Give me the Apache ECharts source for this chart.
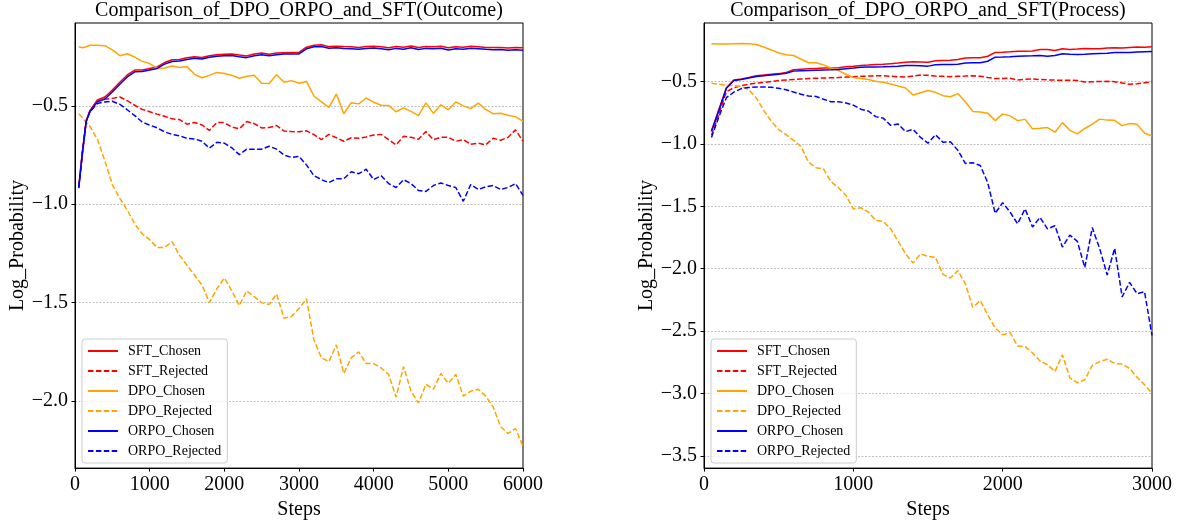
<!DOCTYPE html>
<html>
<head>
<meta charset="utf-8">
<script src="https://cdn.jsdelivr.net/npm/echarts@6/dist/echarts.min.js"></script>
<style>
  html, body { margin: 0; padding: 0; background: #fff; }
  #main { width: 1182px; height: 525px; }
</style>
</head>
<body>
<div id="main"></div>
<script>
// steps (x values) for the two panels
const stepsOutcome = [50, 100, 150, 200, 300, 400, 500, 600, 700, 800, 900, 1000,
  1100, 1200, 1300, 1400, 1500, 1600, 1700, 1800, 1900, 2000,
  2100, 2200, 2300, 2400, 2500, 2600, 2700, 2800, 2900, 3000,
  3100, 3200, 3300, 3400, 3500, 3600, 3700, 3800, 3900, 4000,
  4100, 4200, 4300, 4400, 4500, 4600, 4700, 4800, 4900, 5000,
  5100, 5200, 5300, 5400, 5500, 5600, 5700, 5800, 5900, 6000];
const stepsProcess = [50, 100, 150, 200, 250, 300, 350, 400, 450, 500,
  550, 600, 650, 700, 750, 800, 850, 900, 950, 1000,
  1050, 1100, 1150, 1200, 1250, 1300, 1350, 1400, 1450, 1500,
  1550, 1600, 1650, 1700, 1750, 1800, 1850, 1900, 1950, 2000,
  2050, 2100, 2150, 2200, 2250, 2300, 2350, 2400, 2450, 2500,
  2550, 2600, 2650, 2700, 2750, 2800, 2850, 2900, 2950, 3000];

// Outcome panel
const sftChosenO = [-0.915, -0.735, -0.575, -0.525,
  -0.47, -0.455, -0.42, -0.38, -0.343, -0.318, -0.318, -0.31,
  -0.302, -0.28, -0.266, -0.264, -0.256, -0.25, -0.254, -0.245, -0.24, -0.238,
  -0.236, -0.242, -0.247, -0.237, -0.232, -0.238, -0.232, -0.23, -0.229, -0.228,
  -0.202, -0.192, -0.19, -0.199, -0.197, -0.199, -0.2, -0.203, -0.199, -0.197,
  -0.2, -0.205, -0.198, -0.202, -0.196, -0.204, -0.199, -0.2, -0.197, -0.205,
  -0.2, -0.202, -0.197, -0.2, -0.203, -0.204, -0.203, -0.206, -0.203, -0.205];
const sftRejectedO = [-0.905, -0.73, -0.575, -0.525,
  -0.475, -0.466, -0.462, -0.455, -0.474, -0.497, -0.518, -0.53,
  -0.542, -0.553, -0.566, -0.57, -0.593, -0.585, -0.597, -0.625, -0.585, -0.585,
  -0.608, -0.617, -0.58, -0.59, -0.612, -0.61, -0.6, -0.628, -0.631, -0.632,
  -0.627, -0.646, -0.672, -0.645, -0.662, -0.68, -0.662, -0.665, -0.658, -0.648,
  -0.645, -0.672, -0.698, -0.655, -0.66, -0.67, -0.631, -0.672, -0.66, -0.66,
  -0.68, -0.672, -0.695, -0.69, -0.698, -0.665, -0.675, -0.66, -0.622, -0.68];
const dpoChosenO = [-0.2, -0.205, -0.2, -0.192,
  -0.192, -0.194, -0.216, -0.245, -0.235, -0.252, -0.274, -0.285,
  -0.31, -0.308, -0.298, -0.305, -0.3, -0.34, -0.357, -0.345, -0.33, -0.336,
  -0.344, -0.36, -0.35, -0.345, -0.385, -0.386, -0.342, -0.38, -0.372, -0.385,
  -0.376, -0.45, -0.48, -0.508, -0.44, -0.54, -0.484, -0.49, -0.46, -0.482,
  -0.497, -0.498, -0.53, -0.51, -0.528, -0.55, -0.485, -0.538, -0.495, -0.52,
  -0.48, -0.5, -0.514, -0.486, -0.518, -0.54, -0.538, -0.548, -0.556, -0.578];
const dpoRejectedO = [-0.54, -0.56, -0.585, -0.605,
  -0.67, -0.78, -0.9, -0.97, -1.03, -1.1, -1.15, -1.18,
  -1.22, -1.22, -1.19, -1.26, -1.31, -1.36, -1.41, -1.5, -1.43, -1.375,
  -1.44, -1.515, -1.44, -1.47, -1.5, -1.51, -1.456, -1.58, -1.57, -1.53,
  -1.48, -1.69, -1.78, -1.8, -1.715, -1.86, -1.78, -1.75, -1.81, -1.81,
  -1.832, -1.865, -1.98, -1.825, -1.95, -2.01, -1.915, -1.94, -1.86, -1.91,
  -1.865, -1.975, -1.95, -1.94, -1.975, -2.03, -2.13, -2.165, -2.14, -2.23];
const orpoChosenO = [-0.918, -0.74, -0.58, -0.53,
  -0.48, -0.465, -0.43, -0.39, -0.353, -0.327, -0.326, -0.318,
  -0.31, -0.288, -0.275, -0.272, -0.265, -0.258, -0.262, -0.253, -0.248, -0.246,
  -0.244, -0.25, -0.255, -0.245, -0.24, -0.246, -0.24, -0.237, -0.237, -0.236,
  -0.21, -0.2, -0.198, -0.207, -0.205, -0.208, -0.21, -0.212, -0.208, -0.206,
  -0.21, -0.215, -0.208, -0.212, -0.205, -0.214, -0.208, -0.21, -0.207, -0.216,
  -0.21, -0.212, -0.207, -0.21, -0.213, -0.215, -0.214, -0.218, -0.215, -0.218];
const orpoRejectedO = [-0.915, -0.735, -0.58, -0.53,
  -0.488, -0.48, -0.477, -0.492, -0.52, -0.55, -0.582, -0.598,
  -0.612, -0.632, -0.645, -0.652, -0.665, -0.668, -0.68, -0.715, -0.685, -0.69,
  -0.713, -0.748, -0.72, -0.72, -0.72, -0.705, -0.72, -0.75, -0.762, -0.757,
  -0.8, -0.855, -0.875, -0.89, -0.87, -0.87, -0.835, -0.845, -0.822, -0.875,
  -0.855, -0.895, -0.915, -0.875, -0.895, -0.93, -0.935, -0.905, -0.892, -0.905,
  -0.915, -0.985, -0.9, -0.925, -0.912, -0.905, -0.925, -0.915, -0.895, -0.955];

// Process panel
const sftChosenP = [-0.894, -0.72, -0.548, -0.487, -0.478, -0.466, -0.452, -0.447, -0.441, -0.435,
  -0.425, -0.404, -0.4, -0.396, -0.393, -0.39, -0.389, -0.388, -0.38, -0.375,
  -0.369, -0.366, -0.362, -0.36, -0.355, -0.35, -0.343, -0.34, -0.342, -0.344,
  -0.332, -0.33, -0.328, -0.322, -0.31, -0.308, -0.308, -0.296, -0.265, -0.263,
  -0.26, -0.256, -0.255, -0.253, -0.242, -0.242, -0.25, -0.236, -0.241, -0.238,
  -0.234, -0.236, -0.235, -0.23, -0.228, -0.23, -0.226, -0.222, -0.224, -0.22];
const sftRejectedP = [-0.93, -0.76, -0.58, -0.548, -0.532, -0.52, -0.512, -0.506, -0.499, -0.49,
  -0.486, -0.482, -0.478, -0.474, -0.472, -0.47, -0.468, -0.467, -0.463, -0.46,
  -0.457, -0.455, -0.453, -0.452, -0.456, -0.46, -0.462, -0.455, -0.447, -0.449,
  -0.455, -0.457, -0.46, -0.456, -0.455, -0.453, -0.456, -0.466, -0.475, -0.475,
  -0.472, -0.486, -0.48, -0.478, -0.482, -0.485, -0.487, -0.489, -0.488, -0.49,
  -0.503, -0.5, -0.498, -0.497, -0.5, -0.51, -0.52, -0.517, -0.508, -0.502];
const dpoChosenP = [-0.196, -0.197, -0.198, -0.196, -0.194, -0.195, -0.202, -0.222, -0.245, -0.27,
  -0.283, -0.29, -0.32, -0.348, -0.348, -0.365, -0.39, -0.41, -0.44, -0.466,
  -0.474, -0.482, -0.497, -0.505, -0.518, -0.535, -0.55, -0.607, -0.588, -0.57,
  -0.585, -0.612, -0.62, -0.595, -0.66, -0.738, -0.742, -0.752, -0.812, -0.758,
  -0.774, -0.812, -0.802, -0.878, -0.874, -0.868, -0.905, -0.828, -0.89, -0.918,
  -0.875, -0.84, -0.8, -0.808, -0.81, -0.852, -0.835, -0.842, -0.912, -0.935];
const dpoRejectedP = [-0.513, -0.52, -0.527, -0.532, -0.54, -0.565, -0.63, -0.73, -0.815, -0.885,
  -0.925, -0.97, -1.02, -1.145, -1.19, -1.2, -1.3, -1.35, -1.41, -1.52,
  -1.51, -1.545, -1.612, -1.62, -1.68, -1.78, -1.88, -1.955, -1.882, -1.9,
  -1.908, -2.045, -2.075, -2.015, -2.12, -2.31, -2.255, -2.37, -2.475, -2.53,
  -2.513, -2.62, -2.625, -2.675, -2.74, -2.77, -2.825, -2.69, -2.875, -2.915,
  -2.89, -2.775, -2.745, -2.726, -2.76, -2.765, -2.8, -2.87, -2.93, -3.0];
const orpoChosenP = [-0.9, -0.73, -0.552, -0.49, -0.482, -0.47, -0.458, -0.452, -0.446, -0.44,
  -0.432, -0.415, -0.412, -0.41, -0.407, -0.405, -0.404, -0.402, -0.395, -0.39,
  -0.384, -0.382, -0.381, -0.38, -0.378, -0.375, -0.37, -0.37, -0.372, -0.375,
  -0.363, -0.362, -0.362, -0.36, -0.35, -0.348, -0.348, -0.336, -0.303, -0.302,
  -0.3, -0.296, -0.293, -0.292, -0.29, -0.295, -0.29, -0.276, -0.28, -0.281,
  -0.279, -0.276, -0.274, -0.272, -0.266, -0.265, -0.265, -0.262, -0.26, -0.258];
const orpoRejectedP = [-0.947, -0.78, -0.628, -0.583, -0.555, -0.546, -0.543, -0.543, -0.544, -0.553,
  -0.565, -0.583, -0.6, -0.614, -0.618, -0.64, -0.66, -0.66, -0.67, -0.688,
  -0.72, -0.735, -0.78, -0.792, -0.85, -0.84, -0.9, -0.882, -0.947, -0.993,
  -0.925, -0.985, -0.982, -1.05, -1.155, -1.15, -1.172, -1.31, -1.555, -1.47,
  -1.546, -1.64, -1.52, -1.665, -1.588, -1.68, -1.655, -1.826, -1.73, -1.78,
  -1.99, -1.67, -1.84, -2.05, -1.836, -2.225, -2.11, -2.2, -2.185, -2.535];

const names = ['SFT_Chosen', 'SFT_Rejected', 'DPO_Chosen', 'DPO_Rejected', 'ORPO_Chosen', 'ORPO_Rejected'];
const yTicksO = [-2.0, -1.5, -1.0, -0.5];
const yTicksP = [-3.5, -3.0, -2.5, -2.0, -1.5, -1.0, -0.5];

var FONT = 'Liberation Serif';
var DASH = [5.5, 2.4];

function line(name, steps, vals, color, dashed, idx) {
  return {
    name: name,
    type: 'line',
    xAxisIndex: idx,
    yAxisIndex: idx,
    data: steps.map(function (s, i) { return [s, vals[i]]; }),
    symbol: 'none',
    showSymbol: false,
    lineStyle: { color: color, width: 1.5, type: dashed ? DASH : 'solid' },
    itemStyle: { color: color }
  };
}

function minus(v) {
  return v.toFixed(1).replace('-', '\u2212');
}

function xAxis(idx, max) {
  return {
    type: 'value', gridIndex: idx, min: 0, max: max, interval: 1000,
    name: 'Steps', nameLocation: 'middle', nameGap: 28,
    nameTextStyle: { fontFamily: FONT, fontSize: 20, color: '#000' },
    axisLine: { show: true, onZero: false, lineStyle: { color: '#000', width: 1 } },
    axisTick: { show: true, inside: false, length: 3.5, lineStyle: { color: '#000', width: 1 } },
    axisLabel: { fontFamily: FONT, fontSize: 20, color: '#000', margin: 7, formatter: function (v) { return String(v); } },
    splitLine: { show: false }
  };
}

function yAxis(idx, min, max, ticks, splitNumber) {
  return {
    type: 'value', gridIndex: idx, min: min, max: max, splitNumber: splitNumber,
    name: 'Log_Probability', nameLocation: 'middle', nameGap: 47, nameRotate: 90,
    nameTextStyle: { fontFamily: FONT, fontSize: 20, color: '#000' },
    axisLine: { show: true, onZero: false, lineStyle: { color: '#000', width: 1 } },
    axisTick: { show: true, inside: false, length: 3.5, customValues: ticks, lineStyle: { color: '#000', width: 1 } },
    axisLabel: { fontFamily: FONT, fontSize: 20, color: '#000', margin: 7, customValues: ticks, formatter: minus },
    splitLine: { show: true, lineStyle: { color: '#b0b0b0', width: 0.8, type: [2, 1.5] } }
  };
}

function legend(left) {
  return {
    orient: 'vertical', left: left, top: 339,
    itemWidth: 30, itemHeight: 14, itemGap: 6,
    padding: [5, 6, 5, 5],
    backgroundColor: 'rgba(255,255,255,0.8)',
    borderColor: '#cccccc', borderWidth: 1, borderRadius: 3,
    itemStyle: { opacity: 0 },
    textStyle: { fontFamily: FONT, fontSize: 14, color: '#000', padding: [0, 0, 0, 5] },
    data: names
  };
}

function title(text, center) {
  return {
    text: text, left: center, top: 1, textAlign: 'center', padding: 0,
    textStyle: { fontFamily: FONT, fontSize: 20, fontWeight: 'normal', color: '#000' }
  };
}

var series = [
  line(names[0], stepsOutcome, sftChosenO, '#ff0000', false, 0),
  line(names[1], stepsOutcome, sftRejectedO, '#ff0000', true, 0),
  line(names[2], stepsOutcome, dpoChosenO, '#ffa500', false, 0),
  line(names[3], stepsOutcome, dpoRejectedO, '#ffa500', true, 0),
  line(names[4], stepsOutcome, orpoChosenO, '#0000ff', false, 0),
  line(names[5], stepsOutcome, orpoRejectedO, '#0000ff', true, 0),
  line(names[0], stepsProcess, sftChosenP, '#ff0000', false, 1),
  line(names[1], stepsProcess, sftRejectedP, '#ff0000', true, 1),
  line(names[2], stepsProcess, dpoChosenP, '#ffa500', false, 1),
  line(names[3], stepsProcess, dpoRejectedP, '#ffa500', true, 1),
  line(names[4], stepsProcess, orpoChosenP, '#0000ff', false, 1),
  line(names[5], stepsProcess, orpoRejectedP, '#0000ff', true, 1)
];

var chart = echarts.init(document.getElementById('main'), null, { renderer: 'canvas' });
chart.setOption({
  animation: false,
  backgroundColor: '#ffffff',
  textStyle: { fontFamily: FONT },
  title: [
    title('Comparison_of_DPO_ORPO_and_SFT(Outcome)', 299),
    title('Comparison_of_DPO_ORPO_and_SFT(Process)', 928)
  ],
  grid: [
    { left: 75, top: 23, width: 448, height: 447, show: true, borderColor: '#000', borderWidth: 1, backgroundColor: 'transparent' },
    { left: 704, top: 23, width: 448, height: 447, show: true, borderColor: '#000', borderWidth: 1, backgroundColor: 'transparent' }
  ],
  xAxis: [xAxis(0, 6000), xAxis(1, 3000)],
  yAxis: [yAxis(0, -2.341, -0.079, yTicksO, 5), yAxis(1, -3.599, -0.029, yTicksP, 7)],
  legend: [legend(82), legend(711)],
  series: series
});
</script>
</body>
</html>
